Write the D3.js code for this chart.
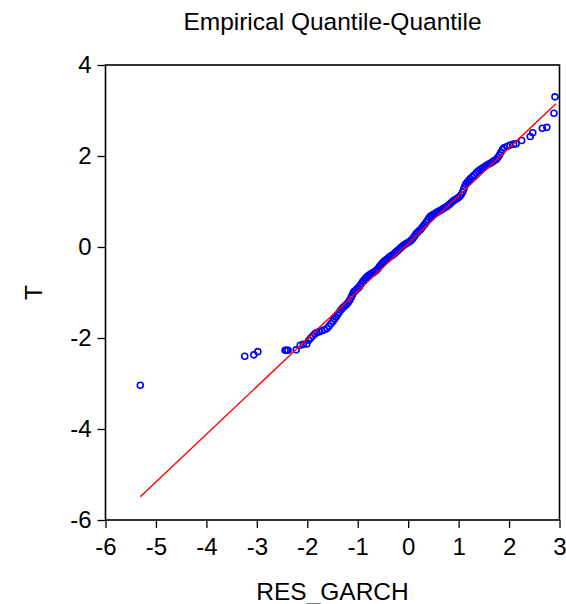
<!DOCTYPE html>
<html>
<head>
<meta charset="utf-8">
<script src="https://cdn.jsdelivr.net/npm/d3@7"></script>
<style>
  body { margin: 0; background: #fff; }
  svg text { font-family: "Liberation Sans", Arial, sans-serif; fill: #000; }
</style>
</head>
<body>
<svg width="566" height="604"></svg>
<script>
// sample quantiles: RES_GARCH (x) against T (y)
var qx = [-5.31, -3.24, -3.06, -2.98, -2.44, -2.41, -2.38, -2.22, -2.14, -2.08, -2.01,
  -1.97, -1.93, -1.89, -1.85, -1.81, -1.76, -1.71, -1.66, -1.61, -1.57, -1.53, -1.49,
  -1.46, -1.43, -1.40, -1.37, -1.34, -1.31, -1.28, -1.25, -1.22, -1.19, -1.16, -1.13,
  -1.11, -1.09, -1.07, -1.05, -1.02, -0.99, -0.96, -0.93, -0.90, -0.87, -0.84, -0.81,
  -0.78, -0.75, -0.72, -0.69, -0.66, -0.63, -0.60, -0.57, -0.54, -0.51, -0.48, -0.45,
  -0.42, -0.39, -0.36, -0.33, -0.30, -0.27, -0.24, -0.21, -0.18, -0.15, -0.12, -0.09,
  -0.06, -0.03, 0.00, 0.03, 0.06, 0.09, 0.12, 0.15, 0.18, 0.21, 0.24, 0.27, 0.30, 0.33,
  0.36, 0.39, 0.42, 0.45, 0.48, 0.51, 0.54, 0.57, 0.60, 0.63, 0.66, 0.69, 0.72, 0.75,
  0.78, 0.81, 0.84, 0.87, 0.90, 0.93, 0.96, 0.99, 1.02, 1.05, 1.08, 1.10, 1.12, 1.14,
  1.17, 1.20, 1.23, 1.27, 1.31, 1.35, 1.39, 1.43, 1.47, 1.51, 1.55, 1.59, 1.63, 1.67,
  1.71, 1.75, 1.78, 1.81, 1.84, 1.87, 1.90, 1.96, 2.02, 2.09, 2.14, 2.25, 2.42, 2.47,
  2.66, 2.75, 2.89, 2.91];
var qy = [-3.04, -2.40, -2.37, -2.30, -2.27, -2.27, -2.27, -2.26, -2.16, -2.14, -2.13,
  -2.05, -2.00, -1.95, -1.91, -1.88, -1.86, -1.84, -1.82, -1.79, -1.74, -1.68, -1.63,
  -1.58, -1.54, -1.49, -1.44, -1.39, -1.35, -1.32, -1.29, -1.26, -1.22, -1.17, -1.11,
  -1.06, -1.01, -0.98, -0.96, -0.93, -0.90, -0.86, -0.81, -0.76, -0.72, -0.68, -0.65,
  -0.62, -0.60, -0.58, -0.56, -0.54, -0.51, -0.48, -0.43, -0.39, -0.35, -0.32, -0.29,
  -0.27, -0.24, -0.21, -0.19, -0.17, -0.14, -0.11, -0.08, -0.05, -0.02, 0.01, 0.04,
  0.06, 0.08, 0.10, 0.12, 0.15, 0.18, 0.23, 0.28, 0.32, 0.35, 0.38, 0.42, 0.46, 0.50,
  0.55, 0.60, 0.65, 0.68, 0.70, 0.72, 0.74, 0.76, 0.78, 0.80, 0.82, 0.84, 0.86, 0.88,
  0.90, 0.93, 0.96, 0.99, 1.02, 1.04, 1.06, 1.08, 1.11, 1.15, 1.21, 1.27, 1.33, 1.38,
  1.42, 1.46, 1.50, 1.54, 1.58, 1.63, 1.67, 1.70, 1.73, 1.76, 1.79, 1.82, 1.84, 1.87,
  1.90, 1.93, 1.97, 2.02, 2.08, 2.14, 2.18, 2.21, 2.24, 2.26, 2.27, 2.34, 2.43, 2.51,
  2.61, 2.63, 2.94, 3.30];

// reference line end points
var lineX = [-5.31, 2.93],
    lineY = [-5.49, 3.15];

var xTicks = [-6, -5, -4, -3, -2, -1, 0, 1, 2, 3],
    yTicks = [-6, -4, -2, 0, 2, 4];

var svg = d3.select("svg"),
    margin = {left: 105.5, right: 6.5, top: 65, bottom: 84},
    width = 566 - margin.left - margin.right,
    height = 604 - margin.top - margin.bottom;

var x = d3.scaleLinear().domain([-6, 3]).range([0, width]),
    y = d3.scaleLinear().domain([-6, 4]).range([height, 0]);

var g = svg.append("g")
    .attr("transform", "translate(" + margin.left + "," + margin.top + ")");

var points = d3.zip(qx, qy);

g.append("g")
  .selectAll("circle")
  .data(points)
  .enter().append("circle")
  .attr("cx", function(d) { return x(d[0]); })
  .attr("cy", function(d) { return y(d[1]); })
  .attr("r", 3)
  .attr("fill", "none")
  .attr("stroke", "#0000ff")
  .attr("stroke-width", 1.6);

g.append("line")
  .attr("x1", x(lineX[0]))
  .attr("y1", y(lineY[0]))
  .attr("x2", x(lineX[1]))
  .attr("y2", y(lineY[1]))
  .attr("stroke", "#ff0000")
  .attr("stroke-width", 1.4);

// frame
g.append("rect")
  .attr("width", width)
  .attr("height", height)
  .attr("fill", "none")
  .attr("stroke", "#000")
  .attr("stroke-width", 1.6);

var xAxis = g.append("g")
  .attr("transform", "translate(0," + height + ")")
  .call(d3.axisBottom(x).tickValues(xTicks).tickSize(8).tickPadding(10).tickFormat(d3.format("d")));

var yAxis = g.append("g")
  .call(d3.axisLeft(y).tickValues(yTicks).tickSize(8).tickPadding(6).tickFormat(d3.format("d")));

[xAxis, yAxis].forEach(function(a) {
  a.select(".domain").remove();
  a.selectAll("line").attr("stroke", "#000").attr("stroke-width", 1.3);
  a.selectAll("text")
    .attr("font-family", "Liberation Sans, Arial, sans-serif")
    .attr("font-size", 24)
    .attr("fill", "#000");
});

// plain hyphen minus like the original
xAxis.selectAll("text").text(function(d) { return String(d); });
yAxis.selectAll("text").text(function(d) { return String(d); });

svg.append("text")
  .attr("x", margin.left + width / 2)
  .attr("y", 30)
  .attr("text-anchor", "middle")
  .attr("font-size", 24.5)
  .text("Empirical Quantile-Quantile");

svg.append("text")
  .attr("x", margin.left + width / 2)
  .attr("y", 600)
  .attr("text-anchor", "middle")
  .attr("font-size", 24.5)
  .text("RES_GARCH");

svg.append("text")
  .attr("transform", "translate(42," + (margin.top + height / 2) + ") rotate(-90)")
  .attr("text-anchor", "middle")
  .attr("font-size", 24.5)
  .text("T");
</script>
</body>
</html>
